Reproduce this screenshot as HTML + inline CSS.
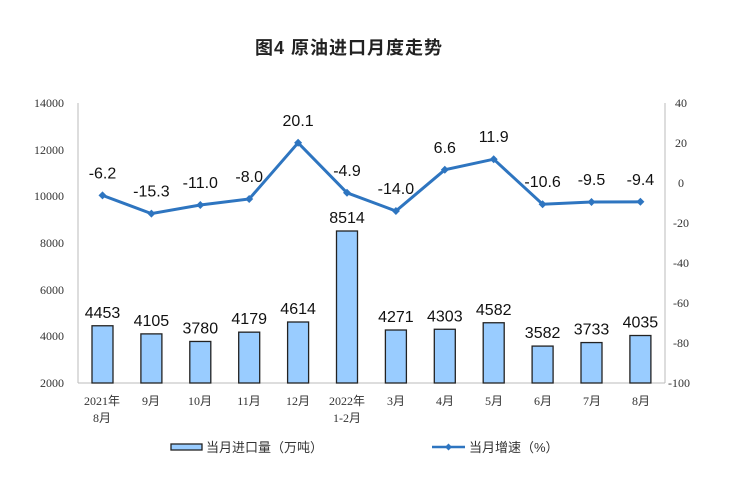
<!DOCTYPE html>
<html><head><meta charset="utf-8"><style>
html,body{margin:0;padding:0;background:#fff;}
svg{display:block;}
.ax{font-family:"Liberation Serif","Noto Serif CJK SC",serif;font-size:12px;fill:#333;}
.cat{font-family:"Liberation Serif","Noto Sans CJK SC",serif;font-size:12px;fill:#333;}
.lab{font-family:"Liberation Sans","Noto Sans CJK SC",sans-serif;font-size:16px;fill:#111;}
</style></head><body>
<svg width="731" height="479" viewBox="0 0 731 479" xmlns="http://www.w3.org/2000/svg">
<text x="349" y="54" text-anchor="middle" font-family="Liberation Sans,'Noto Sans CJK SC',sans-serif" font-size="18" font-weight="bold" letter-spacing="1" fill="#222">图4  原油进口月度走势</text>
<g stroke="#bbb" stroke-width="1">
<line x1="78" y1="103" x2="78" y2="383"/>
<line x1="665" y1="103" x2="665" y2="383"/>
<line x1="78" y1="383" x2="665" y2="383"/>
</g>
<g class="ax" text-anchor="end">
<text x="64" y="107">14000</text><text x="64" y="154">12000</text><text x="64" y="200">10000</text>
<text x="64" y="247">8000</text><text x="64" y="294">6000</text><text x="64" y="340">4000</text><text x="64" y="387">2000</text>
</g>
<g class="ax" text-anchor="start">
<text x="675" y="107">40</text><text x="675" y="147">20</text><text x="678" y="187">0</text>
<text x="673" y="227">-20</text><text x="673" y="267">-40</text><text x="673" y="307">-60</text>
<text x="673" y="347">-80</text><text x="668" y="387">-100</text>
</g>
<g id="bars" fill="#99ccff" stroke="#222" stroke-width="1.3"></g>
<g id="blab" class="lab" text-anchor="middle"></g>
<polyline id="ln" fill="none" stroke="#2e75c0" stroke-width="3"/>
<g id="pts" fill="#2e75c0"></g>
<g id="llab" class="lab" text-anchor="middle"></g>
<g class="cat" text-anchor="middle">
<text x="102" y="405">2021年</text><text x="102" y="422">8月</text>
<text x="151" y="405">9月</text><text x="200" y="405">10月</text><text x="249" y="405">11月</text>
<text x="298" y="405">12月</text><text x="347" y="405">2022年</text><text x="347" y="422">1-2月</text>
<text x="396" y="405">3月</text><text x="445" y="405">4月</text><text x="494" y="405">5月</text>
<text x="543" y="405">6月</text><text x="592" y="405">7月</text><text x="641" y="405">8月</text>
</g>
<rect x="171" y="444" width="31" height="6" fill="#99ccff" stroke="#222" stroke-width="1.3"/>
<text x="206" y="452" font-family="Liberation Sans,'Noto Sans CJK SC',sans-serif" font-size="13" fill="#333">当月进口量（万吨）</text>
<line x1="432" y1="447" x2="465" y2="447" stroke="#2e75c0" stroke-width="2.5"/>
<path d="M448.5 443.5 L452 447 L448.5 450.5 L445 447Z" fill="#2e75c0"/>
<text x="469" y="452" font-family="Liberation Sans,'Noto Sans CJK SC',sans-serif" font-size="13" fill="#333">当月增速（%）</text>
</svg>
<script>
(function(){
var vb=[4453,4105,3780,4179,4614,8514,4271,4303,4582,3582,3733,4035];
var vl=[-6.2,-15.3,-11.0,-8.0,20.1,-4.9,-14.0,6.6,11.9,-10.6,-9.5,-9.4];
var ns="http://www.w3.org/2000/svg",pts=[];
function el(t,a,p){var e=document.createElementNS(ns,t);for(var k in a)e.setAttribute(k,a[k]);document.getElementById(p).appendChild(e);return e;}
for(var i=0;i<12;i++){
 var cx=102.5+i*48.9, bt=103+(14000-vb[i])*280/12000;
 el('rect',{x:cx-10.5,y:bt,width:21,height:383-bt},'bars');
 var t=el('text',{x:cx,y:bt-8},'blab');t.textContent=vb[i];
 var py=103+(40-vl[i])*2; pts.push(cx+','+py);
 el('path',{d:'M'+cx+' '+(py-4)+' L'+(cx+4)+' '+py+' L'+cx+' '+(py+4)+' L'+(cx-4)+' '+py+'Z'},'pts');
 var t2=el('text',{x:cx,y:py-17},'llab');t2.textContent=vl[i].toFixed(1);
}
document.getElementById('ln').setAttribute('points',pts.join(' '));
})();
</script>
</body></html>
